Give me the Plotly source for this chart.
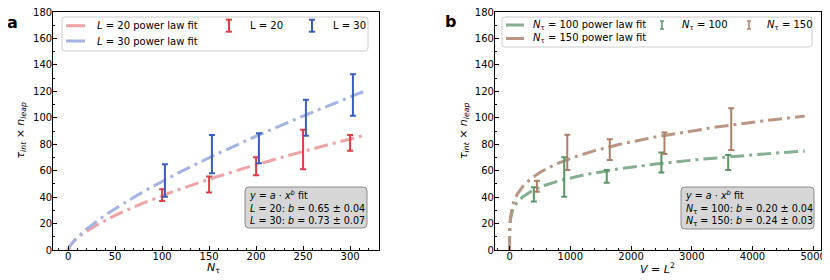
import numpy as np
import plotly.graph_objects as go

W, H = 830, 280
OFF = 8  # default page body margin of the html page
FW, FH = W - OFF, H - OFF

# ---------------- data ----------------
# Panel a: tau_int x n_leap vs N_tau
a_x_L20 = [100, 150, 200, 250, 300]
a_y_L20 = [41.5, 49.5, 63.3, 76.0, 81.0]
a_e_L20 = [4.5, 6.0, 6.8, 15.0, 6.0]
a_x_L30 = [103, 153, 203, 253, 303]
a_y_L30 = [52.5, 72.5, 77.0, 100.0, 117.3]
a_e_L30 = [12.3, 14.5, 11.3, 13.6, 15.7]
# power-law fit parameters y = a * x^b
fit_a_L20, fit_b_L20 = 2.06, 0.65
fit_a_L30, fit_b_L30 = 1.80, 0.73
a_fit_xmax = 315

# Panel b: tau_int x n_leap vs V = L^2
b_x_N100 = [400, 900, 1600, 2500, 3600]
b_y_N100 = [42.0, 55.2, 55.7, 66.2, 66.2]
b_e_N100 = [5.4, 14.9, 4.8, 7.5, 5.7]
b_x_N150 = [450, 950, 1650, 2550, 3650]
b_y_N150 = [48.2, 73.8, 75.9, 80.7, 91.4]
b_e_N150 = [4.1, 13.3, 7.9, 8.1, 15.8]
fit_a_N100, fit_b_N100 = 13.7, 0.20
fit_a_N150, fit_b_N150 = 13.2, 0.24
b_fit_xmax = 4860

a_xticks = [0, 50, 100, 150, 200, 250, 300]
b_xticks = [0, 1000, 2000, 3000, 4000, 5000]
yticks = [0, 20, 40, 60, 80, 100, 120, 140, 160, 180]

# ---------------- style ----------------
RED, RED_L = "#df3d44", "#eea3a4"
BLUE, BLUE_L = "#3a5cc0", "#a3b4e2"
GREEN, GREEN_L = "#5a9568", "#86ae90"
BROWN, BROWN_L = "#ad7f68", "#b99683"
FONT = "DejaVu Sans"
DASH = "14px,5px,3px,5px"


def px(x):
    return (x - OFF) / FW


def py(y):
    return 1 - (y - OFF) / FH


fig = go.Figure()


def fit_trace(a, b, xmax, color, xa, ya):
    xs = np.concatenate([np.linspace(0, 1, 200), np.linspace(1, xmax, 400)])
    ys = a * xs ** b
    return go.Scatter(x=xs, y=ys, mode="lines", xaxis=xa, yaxis=ya,
                      line=dict(color=color, width=3, dash=DASH),
                      showlegend=False, hoverinfo="skip")


def err_trace(x, y, e, color, xa, ya):
    return go.Scatter(x=x, y=y, mode="markers", xaxis=xa, yaxis=ya,
                      marker=dict(size=1, color="rgba(0,0,0,0)"),
                      error_y=dict(type="data", array=e, visible=True,
                                   color=color, thickness=2, width=3),
                      showlegend=False)


fig.add_trace(fit_trace(fit_a_L20, fit_b_L20, a_fit_xmax, RED_L, "x", "y"))
fig.add_trace(fit_trace(fit_a_L30, fit_b_L30, a_fit_xmax, BLUE_L, "x", "y"))
fig.add_trace(err_trace(a_x_L20, a_y_L20, a_e_L20, RED, "x", "y"))
fig.add_trace(err_trace(a_x_L30, a_y_L30, a_e_L30, BLUE, "x", "y"))

fig.add_trace(fit_trace(fit_a_N100, fit_b_N100, b_fit_xmax, GREEN_L, "x2", "y2"))
fig.add_trace(fit_trace(fit_a_N150, fit_b_N150, b_fit_xmax, BROWN_L, "x2", "y2"))
fig.add_trace(err_trace(b_x_N100, b_y_N100, b_e_N100, GREEN, "x2", "y2"))
fig.add_trace(err_trace(b_x_N150, b_y_N150, b_e_N150, BROWN, "x2", "y2"))

axis_common = dict(showline=True, mirror=True, linecolor="black", linewidth=1.2,
                   ticks="inside", ticklen=4, tickwidth=1, tickcolor="black",
                   showgrid=False, zeroline=False, automargin=False,
                   ticklabeloverflow="allow",
                   tickfont=dict(family=FONT, size=10, color="black"))
xminor = dict(ticks="inside", ticklen=2, tickcolor="black")

ydom = [py(250), py(12)]
fig.update_layout(
    template="none",
    width=FW, height=FH,
    margin=dict(l=0, r=0, t=0, b=0, pad=0, autoexpand=False),
    paper_bgcolor="white", plot_bgcolor="white",
    xaxis=dict(domain=[px(53.3), px(379)], range=[-15.75, 330.75],
               tickvals=a_xticks, minor=dict(dtick=10, **xminor),
               ticklabelstandoff=-3, anchor="y", **axis_common),
    yaxis=dict(domain=ydom, range=[0, 180], tickvals=yticks,
               minor=dict(dtick=10, **xminor), ticklabelstandoff=-2,
               anchor="x", **axis_common),
    xaxis2=dict(domain=[px(495), px(820.5)], range=[-240, 5120],
                tickvals=b_xticks, minor=dict(dtick=200, **xminor),
                ticklabelstandoff=-3, anchor="y2", **axis_common),
    yaxis2=dict(domain=ydom, range=[0, 180], tickvals=yticks,
                minor=dict(dtick=10, **xminor), ticklabelstandoff=-2,
                anchor="x2", **axis_common),
)

shapes = []
annotations = []


def text(x, y, s, size=10, xanchor="left", yanchor="middle", angle=0, color="black", align="left"):
    annotations.append(dict(x=px(x), y=py(y), xref="paper", yref="paper", text=s,
                            showarrow=False, xanchor=xanchor, yanchor=yanchor,
                            textangle=angle, align=align,
                            font=dict(family=FONT, size=size, color=color)))


def rounded_rect(x0, y0, x1, y1, r, fill, line, lw=1):
    rx, ry = r / FW, r / FH
    X0, X1 = px(x0), px(x1)
    Y0, Y1 = py(y1), py(y0)
    path = (f"M {X0+rx},{Y1} L {X1-rx},{Y1} Q {X1},{Y1} {X1},{Y1-ry} "
            f"L {X1},{Y0+ry} Q {X1},{Y0} {X1-rx},{Y0} L {X0+rx},{Y0} "
            f"Q {X0},{Y0} {X0},{Y0+ry} L {X0},{Y1-ry} Q {X0},{Y1} {X0+rx},{Y1} Z")
    shapes.append(dict(type="path", path=path, xref="paper", yref="paper",
                       fillcolor=fill, line=dict(color=line, width=lw)))


def leg_line(x0, x1, y, color):
    shapes.append(dict(type="line", xref="paper", yref="paper",
                       x0=px(x0), x1=px(x1), y0=py(y), y1=py(y),
                       line=dict(color=color, width=3)))


def leg_err(x, y, color, h=12, cap=3, lw=2):
    for (a0, b0, a1, b1) in [(x, y - h / 2, x, y + h / 2),
                             (x - cap, y - h / 2, x + cap, y - h / 2),
                             (x - cap, y + h / 2, x + cap, y + h / 2)]:
        shapes.append(dict(type="line", xref="paper", yref="paper",
                           x0=px(a0), x1=px(a1), y0=py(b0), y1=py(b1),
                           line=dict(color=color, width=lw)))


# ---- panel a legend ----
rounded_rect(62, 17, 368, 51, 3, "rgba(255,255,255,0.85)", "#cccccc")
leg_line(66, 85, 25.7, RED_L)
leg_line(66, 85, 41, BLUE_L)
text(95, 25.7, "<i>L</i> = 20 power law fit")
text(95, 41, "<i>L</i> = 30 power law fit")
leg_err(229, 25.7, RED)
text(248, 25.7, "L = 20")
leg_err(312, 25.7, BLUE)
text(331, 25.7, "L = 30")

# ---- panel b legend ----
rounded_rect(502, 17, 812, 47, 3, "rgba(255,255,255,0.85)", "#cccccc")
leg_line(506, 524, 25, GREEN_L)
leg_line(506, 524, 38.5, BROWN_L)
text(531, 25, "<i>N</i><sub>τ</sub> = 100 power law fit")
text(531, 38.5, "<i>N</i><sub>τ</sub> = 150 power law fit")
leg_err(662, 25, GREEN, h=8, cap=2, lw=1.5)
text(680, 25, "<i>N</i><sub>τ</sub> = 100")
leg_err(749, 25, BROWN, h=8, cap=2, lw=1.5)
text(765, 25, "<i>N</i><sub>τ</sub> = 150")

# ---- fit text boxes ----
rounded_rect(245, 187, 367, 228, 4, "#d6d6d6", "#8c8c8c")
text(247, 207.5, "<i>y</i> = <i>a</i> · <i>x</i><sup><i>b</i></sup> fit<br>"
                 "<i>L</i> = 20: <i>b</i> = 0.65 ± 0.04<br>"
                 "<i>L</i> = 30: <i>b</i> = 0.73 ± 0.07", size=9.6)
rounded_rect(681, 187, 814, 229, 4, "#d6d6d6", "#8c8c8c")
text(683, 208, "<i>y</i> = <i>a</i> · <i>x</i><sup><i>b</i></sup> fit<br>"
               "<i>N</i><sub>τ</sub> = 100: <i>b</i> = 0.20 ± 0.04<br>"
               "<i>N</i><sub>τ</sub> = 150: <i>b</i> = 0.24 ± 0.03", size=9.6)

# ---- axis titles ----
ytitle = "<i>τ</i><sub><i>int</i></sub> × <i>n</i><sub><i>leap</i></sub>"
text(20.5, 131, ytitle, size=11, xanchor="center", angle=-90)
text(464, 131, ytitle, size=11, xanchor="center", angle=-90)
text(213, 268, "<i>N</i><sub>τ</sub>", size=11, xanchor="center")
text(657, 268, "<i>V</i> = <i>L</i><sup>2</sup>", size=11, xanchor="center")

# ---- panel letters ----
text(12, 22, "<b>a</b>", size=16, xanchor="center")
text(450, 21, "<b>b</b>", size=16, xanchor="center")

fig.update_layout(shapes=shapes, annotations=annotations)
fig.write_html("out.html")
